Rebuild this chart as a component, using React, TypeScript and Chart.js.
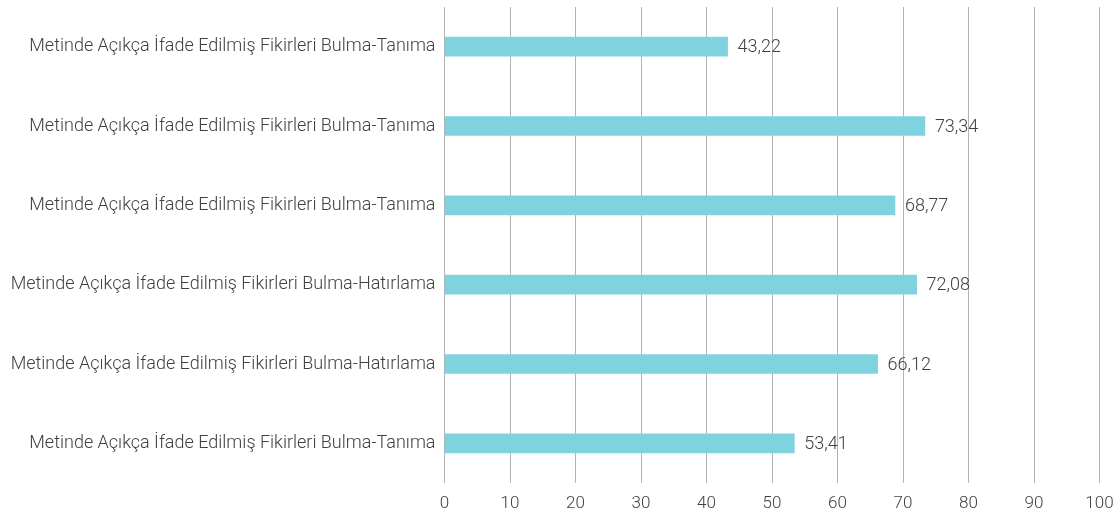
import React, { useEffect, useRef } from "react";
import { Chart, registerables } from "chart.js";

Chart.register(...registerables);

const categories: string[] = [
  "Metinde Açıkça İfade Edilmiş Fikirleri Bulma-Tanıma",
  "Metinde Açıkça İfade Edilmiş Fikirleri Bulma-Tanıma",
  "Metinde Açıkça İfade Edilmiş Fikirleri Bulma-Tanıma",
  "Metinde Açıkça İfade Edilmiş Fikirleri Bulma-Hatırlama",
  "Metinde Açıkça İfade Edilmiş Fikirleri Bulma-Hatırlama",
  "Metinde Açıkça İfade Edilmiş Fikirleri Bulma-Tanıma",
];

const values: number[] = [43.22, 73.34, 68.77, 72.08, 66.12, 53.41];

const xMin = 0;
const xMax = 100;
const xStep = 10;

const FONT = "Roboto, 'DejaVu Sans', sans-serif";

const valueLabelPlugin = {
  id: "valueLabels",
  afterDatasetsDraw(chart: any) {
    const ctx = chart.ctx;
    const meta = chart.getDatasetMeta(0);
    ctx.save();
    ctx.font = `300 18px ${FONT}`;
    ctx.fillStyle = "#404040";
    ctx.textAlign = "left";
    ctx.textBaseline = "middle";
    meta.data.forEach((bar: any, i: number) => {
      const txt = values[i].toFixed(2).replace(".", ",");
      ctx.fillText(txt, bar.x + 10, bar.y + 1);
    });
    ctx.restore();
  },
};

export default function App() {
  const canvasRef = useRef<HTMLCanvasElement | null>(null);

  useEffect(() => {
    if (!canvasRef.current) return;
    const chart = new Chart(canvasRef.current, {
      type: "bar",
      data: {
        labels: categories,
        datasets: [
          {
            data: values,
            backgroundColor: "#7fd3de",
            barThickness: 19,
          },
        ],
      },
      options: {
        indexAxis: "y",
        animation: false,
        responsive: true,
        maintainAspectRatio: false,
        layout: { padding: { top: 7, right: 17.5, left: 0, bottom: 0 } },
        plugins: {
          legend: { display: false },
          tooltip: { enabled: false },
        },
        scales: {
          x: {
            min: xMin,
            max: xMax,
            ticks: {
              stepSize: xStep,
              color: "#404040",
              padding: 11,
              font: { family: FONT, size: 17, weight: "300" as any },
            },
            grid: {
              color: "#b3b3b3",
              lineWidth: 1,
              drawTicks: false,
            },
            border: { display: false },
            afterFit: (s: any) => {
              s.height = 33;
              s.paddingLeft = 0;
              s.paddingRight = 0;
            },
          },
          y: {
            ticks: {
              color: "#404040",
              padding: 9,
              font: { family: FONT, size: 18, weight: "300" as any },
            },
            grid: { display: false, drawTicks: false },
            border: { display: false },
            afterFit: (s: any) => {
              s.width = 444.5;
              s.paddingTop = 0;
              s.paddingBottom = 0;
            },
          },
        },
      },
      plugins: [valueLabelPlugin],
    });
    return () => chart.destroy();
  }, []);

  return (
    <div style={{ position: "fixed", left: 0, top: 0, width: 1117, height: 516, background: "#fff" }}>
      <canvas ref={canvasRef} />
    </div>
  );
}
